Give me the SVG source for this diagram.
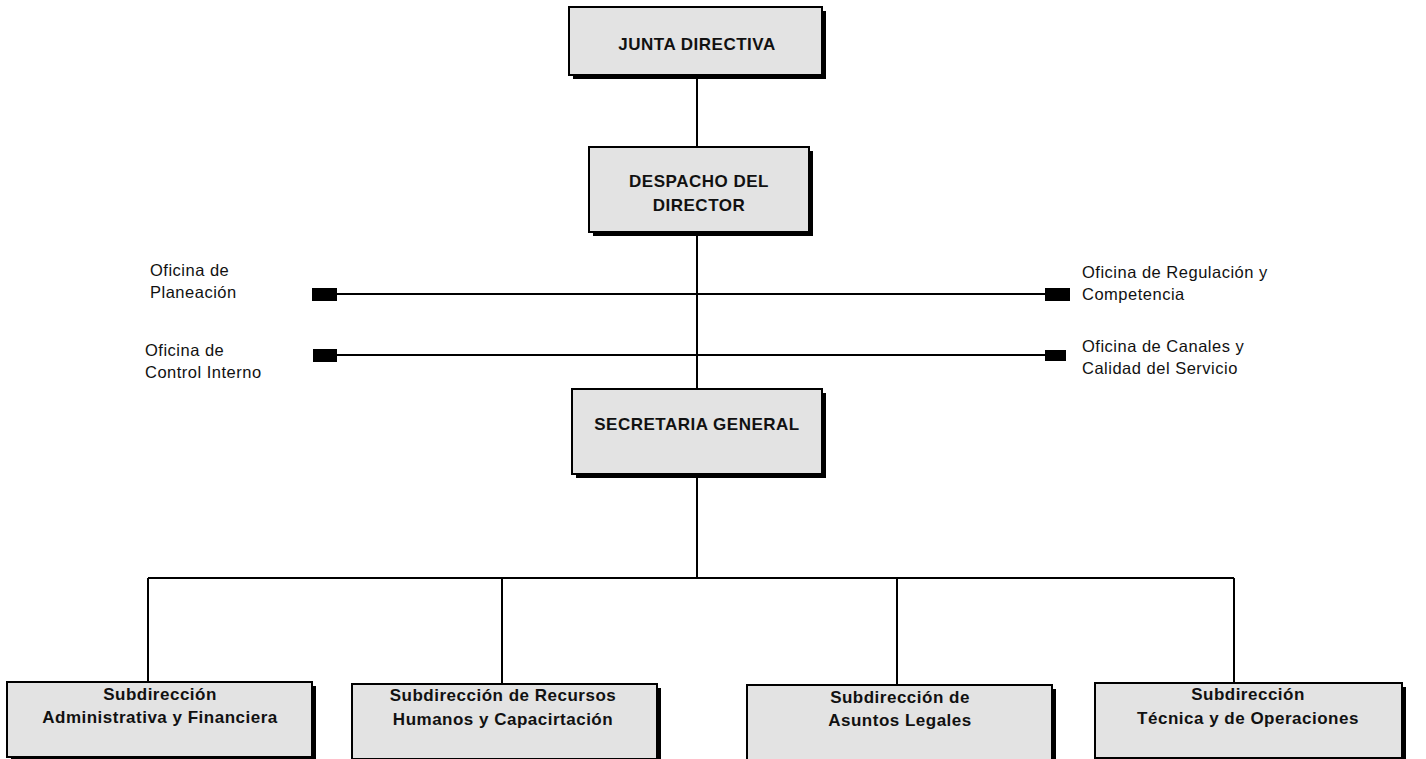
<svg xmlns="http://www.w3.org/2000/svg" width="1426" height="759" viewBox="0 0 1426 759">
<style>
.box{fill:#e3e3e3;stroke:#000;stroke-width:2}
.sh{fill:#000}
.t{font-family:"Liberation Sans",Arial,sans-serif;font-size:17px;font-weight:bold;letter-spacing:0.5px;fill:#111;text-anchor:middle}
.l{font-family:"Liberation Sans",Arial,sans-serif;font-size:16.5px;letter-spacing:0.5px;fill:#111}
.c{stroke:#000;stroke-width:2;fill:none}
.sq{fill:#000}
</style>
<rect width="1426" height="759" fill="#fff"/>
<g id="connectors">
<path class="c" d="M697 75V147M697 232V389M697 474V578M148 578H1234M148 578V682M502 578V684M897 578V685M1234 578V683"/>
<path class="c" d="M337 294H1045M337 355H1045"/>
<rect class="sq" x="312" y="288" width="25" height="13"/>
<rect class="sq" x="1045" y="288" width="25" height="13"/>
<rect class="sq" x="313" y="349" width="24" height="13"/>
<rect class="sq" x="1045" y="350" width="21" height="11"/>
</g>
<g id="junta">
<rect class="sh" x="573" y="11" width="253" height="68"/>
<rect class="box" x="569" y="7" width="253" height="68"/>
<text class="t" x="697" y="50">JUNTA DIRECTIVA</text>
</g>
<g id="despacho">
<rect class="sh" x="593" y="151" width="220" height="85"/>
<rect class="box" x="589" y="147" width="220" height="85"/>
<text class="t" x="699" y="187">DESPACHO DEL</text>
<text class="t" x="699" y="211">DIRECTOR</text>
</g>
<g id="secretaria">
<rect class="sh" x="576" y="393" width="250" height="85"/>
<rect class="box" x="572" y="389" width="250" height="85"/>
<text class="t" x="697" y="430">SECRETARIA GENERAL</text>
</g>
<g id="planeacion">
<text class="l" x="150" y="276">Oficina de</text>
<text class="l" x="150" y="298">Planeación</text>
</g>
<g id="control">
<text class="l" x="145" y="356">Oficina de</text>
<text class="l" x="145" y="378">Control Interno</text>
</g>
<g id="regulacion">
<text class="l" x="1082" y="278">Oficina de Regulación y</text>
<text class="l" x="1082" y="300">Competencia</text>
</g>
<g id="canales">
<text class="l" x="1082" y="352">Oficina de Canales y</text>
<text class="l" x="1082" y="374">Calidad del Servicio</text>
</g>
<g id="sub1">
<rect class="sh" x="11" y="686" width="305" height="75"/>
<rect class="box" x="7" y="682" width="305" height="75"/>
<text class="t" x="160" y="700">Subdirección</text>
<text class="t" x="160" y="723">Administrativa y Financiera</text>
</g>
<g id="sub2">
<rect class="sh" x="356" y="688" width="305" height="75"/>
<rect class="box" x="352" y="684" width="305" height="75"/>
<text class="t" x="503" y="701">Subdirección de Recursos</text>
<text class="t" x="503" y="725">Humanos y Capacirtación</text>
</g>
<g id="sub3">
<rect class="sh" x="751" y="689" width="305" height="75"/>
<rect class="box" x="747" y="685" width="305" height="75"/>
<text class="t" x="900" y="703">Subdirección de</text>
<text class="t" x="900" y="726">Asuntos Legales</text>
</g>
<g id="sub4">
<rect class="sh" x="1099" y="687" width="307" height="75"/>
<rect class="box" x="1095" y="683" width="307" height="75"/>
<text class="t" x="1248" y="700">Subdirección</text>
<text class="t" x="1248" y="724">Técnica y de Operaciones</text>
</g>
</svg>
